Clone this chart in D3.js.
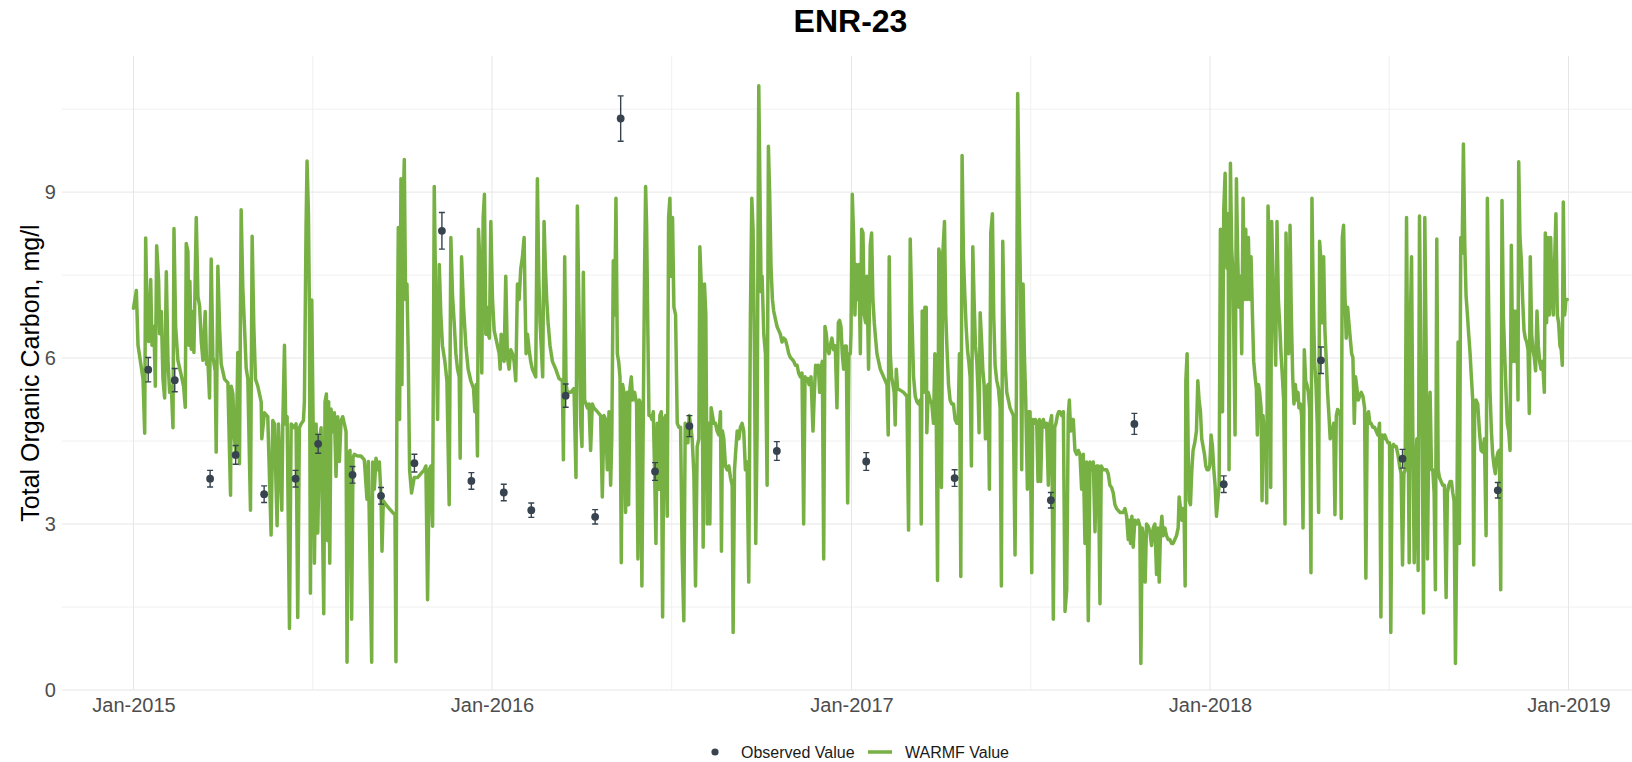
<!DOCTYPE html>
<html lang="en">
<head>
<meta charset="UTF-8">
<title>ENR-23</title>
<script src="https://d3js.org/d3.v7.min.js"></script>
<style>
  body { margin: 0; background: #fff; font-family: "Liberation Sans", Arial, sans-serif; }
  svg { display: block; }
  .grid-major { stroke: #E6E6E6; stroke-width: 1; }
  .grid-minor { stroke: #F0F0F0; stroke-width: 1; }
  .axis path, .axis line { display: none; }
</style>
</head>
<body>
<svg id="chart" width="1632" height="762"></svg>
<script>
// days are counted from this date for the WARMF series
const seriesStart = "2015-01-01";

// observed samples (date, mg/l, error half-width)
const obsDates = ["2015-01-16","2015-02-12","2015-03-20","2015-04-15","2015-05-14","2015-06-15","2015-07-08","2015-08-12",
  "2015-09-10","2015-10-14","2015-11-11","2015-12-11","2016-01-13","2016-02-10","2016-03-16","2016-04-15","2016-05-11",
  "2016-06-15","2016-07-20","2016-10-17","2017-01-16","2017-04-16","2017-07-23","2017-10-16","2018-01-15","2018-04-24",
  "2018-07-16","2018-10-21"];
const obsValues = [5.79,5.60,3.82,4.25,3.54,3.82,4.45,3.89,3.51,4.10,8.30,3.78,3.57,3.25,5.32,3.13,10.33,3.95,4.77,4.32,
  4.13,3.83,3.43,4.81,3.72,5.96,4.18,3.61];
const obsErrors = [0.22,0.21,0.15,0.17,0.15,0.15,0.17,0.15,0.15,0.16,0.33,0.15,0.15,0.13,0.21,0.13,0.41,0.16,0.19,0.17,
  0.16,0.15,0.14,0.19,0.15,0.24,0.17,0.14];

// WARMF simulated series, [day since seriesStart, mg/l]
const warmf2015 = [[0,6.9],[2.9,7.22],[4.6,6.23],[9.7,5.62],[11.4,4.64],[12.4,8.17],[14.1,6.5],[15.4,6.3],[17.5,7.42],[18.8,6.23],
  [20.8,6.57],[22.2,5.49],[23.6,8.03],[25.6,7.39],[26.6,6.44],[28.3,6.84],[30,5.62],[31.7,5.28],[33.4,7.56],[35.1,5.96],[36.8,5.38],
  [38.5,5.49],[40.2,4.74],[41.2,8.34],[42.9,6.57],[45.2,5.96],[48.6,5.69],[51,5.49],[52.7,5.11],[53.7,8.07],[55.4,7.93],[56.4,6.23],
  [57.4,7.39],[58.8,6.16],[60.5,6.84],[61.5,6.1],[63.9,8.54],[65.6,7.11],[67.3,6.94],[69,6.3],[70.7,5.96],[73,6.84],[74.4,5.89],
  [75.7,5.96],[77.4,5.28],[79.1,7.79],[80.8,6.03],[83.2,5.76],[84.2,4.3],[85.9,7.66],[87.6,6.57],[89.3,5.89],[92.7,5.62],[96.1,5.55],
  [98.8,3.52],[99.5,5.49],[101.2,5.35],[102.8,4.54],[104.5,4.26],[106.2,6.1],[107.9,4.09],[109.6,8.68],[111.3,7.25],[113,6.57],
  [114.7,5.82],[116.4,5.62],[119.1,3.25],[120.8,8.2],[122.5,6.57],[124.2,5.62],[126.6,5.49],[130,5.21],[130.6,4.54],[133.3,5.01],
  [136.7,4.94],[140.1,2.8],[141.8,4.87],[143.5,4.81],[146.2,2.97],[147.6,4.81],[151,3.25],[152,4.81],[153.7,6.23],[155,4.81],
  [156.4,4.94],[158.8,1.11],[160.5,4.81],[163.8,4.74],[165.5,4.81],[167.2,1.31],[168.9,4.74],[170.6,4.81],[173,4.87],[174,5.21],
  [175.7,8.4],[176.7,9.56],[178.1,8.61],[179.1,6.91],[180.1,1.75],[181.5,7.05],[182.8,4.94],[184.2,2.29],[185.9,4.81],[187.6,2.84],
  [189.3,4.54],[191,4.74],[192.6,2.77],[193.7,1.38],[195,5.21],[196.4,5.35],[197.7,2.7],[198.7,5.21],[199.8,2.29],[201.1,5.08],
  [202.8,4.67],[204.5,5.01],[206.2,3.86],[207.9,4.94],[209.6,4.13],[211.3,4.87],[213,4.94],[214.7,4.81],[216.4,4.67],[217.4,0.5],
  [218.7,4.26],[220.4,4.33],[222.1,1.28],[223.5,4.2],[224.8,4.26],[228.2,4.23],[231.6,4.23],[235,4.16],[237.7,3.45],[239.1,4.13],
  [242.5,0.5],[243.5,4.12],[245.2,3.63],[246.9,4.19],[248.6,3.98],[250.3,4.12],[252,3.49],[253,2.51],[254.3,3.42],[257,3.35],
  [260.4,3.28],[263.8,3.21],[266.2,3.17],[267.2,0.51],[268.2,5.24],[269.6,8.36],[270.9,4.89],[272.3,9.24],[273.3,5.52],[274.3,8.54],
  [275.7,9.59],[277,7.06],[278.4,7.34],[279.7,6.08],[281.1,3.98],[283.1,3.56],[285.8,3.84],[289.2,3.84],[292.6,3.91],[296,3.98],
  [297.7,4.05],[299.4,1.63],[301.1,3.98],[302.8,4.05],[304.5,2.96],[306.2,9.1],[307.9,6.78],[309.6,4.89],[311.3,7.69],[312.9,6.78],
  [314.6,6.22],[317,5.94],[319.1,5.59],[321.4,3.35],[323.1,8.18],[324.8,7.13],[326.5,6.64],[328.2,6.08],[329.9,5.8],[331.6,5.66],
  [332.6,4.19],[334,7.83],[336,6.92],[338.4,6.22],[340.7,5.8],[343.4,5.59],[346.2,5.45],[347.5,5.03],[348.9,5.52],[350.2,4.23],
  [351.2,8.33],[352.6,7.76],[353.6,6.78],[354.6,5.73],[356,8.54],[357.3,8.96],[358.7,6.43],[359.7,6.92],[361.1,6.43],[362.4,6.36],
  [363.8,8.47]];

const warmf2016 = [[365.5,7.06],[367.2,6.5],[368.9,6.36],[370.6,6.22],[372.3,6.08],[373.3,5.8],[374.3,6.43],[375.6,6.08],[377.3,5.94],
  [379,7.48],[380.7,6.01],[382.4,5.8],[384.1,6.15],[385.8,6.08],[387.5,5.94],[389.2,5.59],[390.9,7.34],[392.6,7.06],[394.3,7.62],
  [396,7.83],[397.7,8.18],[398.7,6.99],[399.7,6.08],[401.1,6.43],[402.8,6.15],[404.4,5.94],[406.1,5.8],[407.8,5.73],[409.5,5.66],
  [411.2,9.24],[412.6,7.48],[413.9,6.64],[415.3,6.15],[416.6,5.66],[418,8.47],[419.4,7.62],[420.7,7.06],[422.1,6.64],[424.1,6.22],
  [426.5,5.94],[429.9,5.8],[433.2,5.63],[436.6,5.59],[437.7,4.16],[439,7.83],[440.4,5.52],[441.7,5.38],[445.1,5.38],[448.5,5.45],
  [450.5,3.84],[451.9,8.75],[453.6,6.78],[455.3,4.82],[456.6,4.4],[458,7.55],[459.3,5.24],[460.7,5.17],[462.1,5.1],[463.7,5.17],
  [465.4,4.33],[467.1,5.17],[468.8,5.1],[472.2,5.03],[475.6,4.96],[477.3,3.49],[479,4.96],[480.7,4.89],[482.4,3.98],[484.1,5.03],
  [485.8,3.7],[487,4.6],[488.5,7.76],[489.9,6.78],[491.2,8.89],[492.6,6.08],[493.9,5.94],[495.3,5.66],[496.6,2.3],[498,5.52],
  [499.3,5.38],[501,3.21],[502.7,5.38],[504.1,3.35],[505.4,5.45],[506.8,5.66],[508.2,5.24],[510.2,5.38],[512.2,5.17],[513.6,2.37],
  [514.9,5.24],[516.3,5.17],[517.6,1.88],[519,4.96],[520.4,7.69],[521.4,9.1],[522.4,8.4],[523.7,6.43],[524.8,4.96],[526.5,4.96],
  [527.8,4.89],[529.2,5.03],[530.5,3.98],[531.9,2.65],[533.2,4.82],[534.9,3.63],[535.9,4.96],[537.3,5.03],[538.7,1.32],[540,4.89],
  [541.7,4.96],[543.4,3.14],[544.8,8.54],[546.1,8.89],[547.5,7.48],[548.8,8.54],[550.2,6.92],[551.9,6.78],[553.6,4.82],[555.3,4.75],
  [557,4.75],[558.6,2.44],[560.3,1.25],[561.7,4.82],[563.1,4.68],[564.4,4.47],[565.8,4.96],[567.1,4.82],[568.8,4.54],[570.5,3.91],
  [572.2,1.88],[573.9,4.4],[575.6,4.54],[576.6,8.01],[578,7.34],[579,5.73],[580,2.58],[581.3,7.34],[582.7,6.78],[584.1,3],[585.4,4.82],
  [586.8,3],[588.1,5.1],[589.5,4.96],[590.8,4.82],[592.5,4.82],[594.2,4.68],[595.9,4.61],[597.6,5.03],[598.6,2.51],[599.6,4.68],
  [601,4.54],[602.7,4.05],[604.4,3.98],[606.1,4.05],[607.8,3.84],[609.5,3.7],[610.5,1.04],[611.9,3.98],[612.9,4.26],[614.6,4.68],
  [616.3,4.54],[617.9,4.75],[619.6,4.82],[621.3,4.68],[623,3.98],[624.7,4.12],[626.4,1.95],[628.1,6.78],[629.5,8.89],[630.8,8.33],
  [632.2,6.08],[633.5,2.65],[634.9,4.68],[636.6,10.92],[637.9,8.89],[639,7.2],[640,7.48],[641.7,6.43],[643.4,6.08],[645.1,3.7],
  [646.4,9.83],[647.8,8.89],[649.1,7.62],[650.5,7.06],[651.8,6.85],[653.5,6.71],[655.2,6.57],[656.9,6.5],[658.6,6.43],[660.3,6.29],
  [662,6.36],[663.7,6.33],[665.4,6.22],[667.1,6.08],[668.8,6.01],[670.5,5.98],[672.2,5.94],[673.9,5.87],[675.6,5.87],[677.2,5.73],
  [678.9,5.66],[680.6,5.73],[682.3,3],[683.7,5.66],[685,5.59],[686.4,5.63],[687.8,5.52],[689.8,5.66],[691.8,4.68],[693.2,5.38],
  [694.5,5.87],[695.9,5.8],[697.2,5.87],[698.6,5.38],[700,5.8],[701.3,5.94],[702.7,2.37],[704,6.57],[705.4,6.43],[706.7,6.15],
  [708.1,6.08],[709.4,6.22],[711.1,6.36],[712.8,6.15],[714.5,6.22],[716.2,5.1],[717.6,6.64],[718.9,6.68],[720.3,6.57],[721.6,6.08],
  [723,5.8],[724.4,6.22],[725.7,6.22],[727.1,3.38],[728.4,6.08],[729.8,6.08]];

const warmf2017 = [[730.5,6.43],[731.8,8.96],[733.2,8.18],[734.5,6.78],[735.9,7.69],[737.2,7.06],[738.6,7.69],[740,6.08],[741.3,8.33],
  [742.7,8.26],[744,6.78],[745.4,6.64],[746.7,7.48],[748.4,5.8],[750.1,8.04],[751.5,8.26],[752.8,7.06],[754.2,6.64],[755.5,6.36],
  [756.9,6.08],[758.6,5.94],[760.3,5.8],[762,5.73],[763.7,5.66],[765.4,5.59],[767.1,5.52],[768.4,4.61],[769.4,7.83],[770.5,6.08],
  [771.8,5.66],[773.2,5.52],[774.5,5.38],[775.5,4.79],[776.6,5.8],[777.9,5.45],[780.6,5.42],[784,5.38],[787.4,5.31],[789.1,2.89],
  [790.8,8.15],[792.5,6.78],[794.2,5.66],[795.9,5.31],[797.6,5.21],[799.3,5.17],[801,5.24],[802,3],[803,6.85],[804.3,5.38],[805.7,6.92],
  [807.1,6.92],[807.7,4.65],[809.1,5.38],[811.1,5.24],[812.8,5.17],[814.5,4.82],[815.9,6.08],[817.2,5.17],[818.6,1.98],[819.9,7.97],
  [821.3,7.83],[822.6,3.66],[824,7.9],[825.7,8.47],[827,6.78],[828.1,6.22],[829.8,5.52],[831.4,5.24],[833.1,5.17],[834.8,5.17],
  [836.5,4.89],[838.2,4.82],[839.6,4.82],[840.9,6.08],[842.3,2.05],[843.6,9.66],[845,7.83],[846.4,7.13],[847.7,6.57],[849.1,6.15],
  [850.4,5.94],[851.8,5.66],[853.1,4.05],[854.5,8.01],[855.8,7.06],[857.2,6.22],[858.6,5.94],[859.9,5.38],[860.9,4.65],[862,6.82],
  [863.3,6.36],[864.7,5.8],[866,5.52],[867.4,4.54],[868.7,5.45],[870.1,5.52],[871.4,3.63],[872.8,8.26],[874.5,8.61],[875.8,6.78],
  [877.2,5.87],[878.9,5.59],[880.6,5.45],[882.3,5.1],[883.6,1.88],[885,8.11],[886.3,6.78],[887.7,5.8],[889.1,5.38],[890.8,5.24],
  [892.4,5.1],[894.1,5.03],[895.8,4.96],[897.5,2.44],[898.9,5.38],[900.2,10.78],[901.6,8.89],[903,7.34],[904.3,3.98],[905.7,7.34],
  [907,6.08],[908.4,5.24],[910.1,3.63],[911.4,5.03],[912.8,5.03],[914.5,2.12],[915.5,4.89],[916.9,4.82],[918.2,4.89],[919.6,4.82],
  [920.9,3.77],[922.3,4.89],[923.6,3.77],[925,4.82],[926.3,4.89],[928,4.75],[929.7,4.82],[931.4,3.7],[933.1,4.82],[934.8,4.96],
  [936.5,1.28],[937.9,4.75],[939.2,4.82],[940.6,4.96],[941.9,5.03],[943.3,5.03],[945,4.96],[946.7,5.03],[948.4,1.42],[950.1,1.81],
  [951.7,4.96],[952.8,5.24],[954.1,4.68],[955.5,4.89],[956.8,4.89],[958.5,4.33],[960.2,4.26],[961.9,4.33],[963.6,4.26],[965.3,3.63],
  [967,4.26],[968.7,2.65],[970.4,4.12],[972.1,1.25],[973.8,4.12],[975.5,3.98],[977.2,4.12],[978.9,2.86],[980.6,4.05],[982.3,4.05],
  [984,1.56],[985.3,4.05],[987.3,3.98],[989,3.98],[990.7,3.98],[992.4,3.91],[994.1,3.7],[995.8,3.66],[997.5,3.56],[999.2,3.35],
  [1000.9,3.28],[1004.3,3.21],[1007.7,3.21],[1009.4,3.28],[1011.1,3.14],[1012.8,2.72],[1013.8,3.07],[1015.1,2.65],[1016.5,3.14],
  [1017.8,2.58],[1019.5,3.07],[1021.2,3],[1022.9,3.07],[1024.6,2.96],[1025.6,0.48],[1027,2.93],[1028.7,2.72],[1030,1.95],[1031.4,3],
  [1033.1,2.96],[1034.8,2.86],[1036.5,2.61],[1038.2,2.93],[1039.9,3],[1041.6,2.09],[1042.9,2.93],[1044.3,1.95],[1045.6,2.86],
  [1047,3.14],[1048.3,2.79],[1050,2.93],[1051.7,2.79],[1053.4,2.72],[1055.1,2.72],[1056.8,2.65],[1058.5,2.65],[1060.2,2.72],
  [1061.9,2.79],[1063.6,2.93],[1064.6,3.49],[1066,3.28],[1067.3,3.07],[1068.7,3.28],[1069.7,3.07],[1070.7,1.88],[1071.4,5.59],
  [1072.7,6.08],[1073.8,4.33],[1074.8,3.42],[1076.1,3.35],[1077.5,3.98],[1078.8,4.33],[1080.5,4.47],[1082.2,4.68],[1083.6,5.59],
  [1084.9,5.24],[1086.3,5.03],[1087.6,4.54],[1089,4.4],[1090.4,4.26],[1091.7,4.05],[1093.1,3.98],[1094.4,3.98],[1095.8,4.05]];

const warmf2018 = [[1097.1,4.61],[1098.5,4.4],[1099.9,3.98],[1101.2,3.7],[1102.6,3.14],[1103.9,3.42],[1105.3,3.7],[1106.6,8.33],
  [1107.6,7.69],[1108.7,5.03],[1110,8.68],[1111.4,9.34],[1112.4,7.83],[1113.4,7.62],[1114.4,8.61],[1115.4,3.98],[1116.8,9.52],
  [1118.1,7.97],[1119.5,7.48],[1120.5,6.08],[1121.5,4.61],[1122.9,9.24],[1124.2,7.83],[1125.6,6.92],[1127,7.48],[1128.3,6.08],
  [1129.7,8.89],[1131,7.06],[1132.4,8.33],[1133.7,7.06],[1135.1,8.18],[1136.4,7.06],[1137.8,7.83],[1139.2,6.78],[1140.5,5.94],
  [1141.9,5.66],[1143.2,5.45],[1144.2,4.61],[1145.3,5.52],[1146.6,5.38],[1148,5.1],[1149,3.42],[1150,4.96],[1151.4,4.54],[1152.7,4.54],
  [1153.7,3.38],[1155.1,8.75],[1156.4,7.83],[1157.8,3.66],[1158.8,8.47],[1160.2,7.34],[1161.5,6.78],[1162.9,5.87],[1164.2,8.47],
  [1165.6,7.06],[1166.9,6.64],[1168.3,6.08],[1169.7,5.66],[1171,5.24],[1172.4,3],[1173.4,8.26],[1174.7,6.78],[1176.1,6.08],
  [1177.5,8.4],[1178.8,6.78],[1180.2,5.66],[1181.5,5.17],[1182.9,5.52],[1184.2,5.24],[1185.6,5.38],[1186.6,5.1],[1188,5.17],
  [1189.3,4.96],[1190.7,2.93],[1192,6.15],[1193.4,5.59],[1194.7,5.52],[1196.1,5.38],[1197.4,5.1],[1198.8,2.12],[1199.8,8.89],
  [1201.2,7.06],[1202.5,5.94],[1203.9,5.52],[1205.2,4.82],[1206.6,3.21],[1207.6,8.11],[1209,7.76],[1210.3,6.64],[1211.7,7.83],
  [1213,6.5],[1214.4,5.94],[1215.7,5.38],[1217.1,4.96],[1218.4,4.54],[1220.5,4.68],[1221.9,4.82],[1223.2,3.17],[1224.6,4.96],
  [1225.9,5.07],[1227.3,5.03],[1228.6,4.96],[1229.6,3.1],[1230.7,8.18],[1232,8.4],[1233.4,7.13],[1234.7,6.36],[1236.1,6.92],
  [1237.4,6.64],[1238.8,6.36],[1240.2,6.08],[1241.5,6.01],[1242.9,4.82],[1244.2,5.66],[1245.6,5.45],[1246.9,5.24],[1248.3,5.31],
  [1250,5.38],[1251.7,5.31],[1253.4,5.1],[1254.7,2.02],[1256.1,4.96],[1257.4,5.03],[1258.8,4.82],[1260.1,4.82],[1261.8,4.75],
  [1263.5,4.75],[1265.2,4.68],[1266.9,4.61],[1268.6,4.82],[1270,1.32],[1271.3,4.61],[1272.7,4.54],[1274,4.61],[1275.4,4.54],
  [1277.1,4.47],[1278.8,4.47],[1280.1,1.04],[1281.5,4.4],[1282.9,4.44],[1284.2,4.4],[1285.6,4.4],[1287.3,4.26],[1289,4.05],
  [1290.6,3.91],[1292,2.26],[1293.4,3.91],[1294.7,3.98],[1296.1,8.54],[1297.4,5.38],[1298.8,2.3],[1300.1,6.78],[1301.2,7.83],
  [1302.5,4.68],[1303.9,2.3],[1305.2,3.98],[1306.6,4.54],[1307.9,2.16],[1309.3,8.57],[1310.6,6.08],[1312,4.68],[1313.4,1.39],
  [1314.7,8.54],[1316.1,6.08],[1317.4,2.37],[1318.8,4.68],[1320.1,5.38],[1321.5,3.98],[1322.8,3.98],[1324.2,3.56],[1325.5,1.81],
  [1326.9,8.15],[1328.3,3.98],[1329.6,3.84],[1331.3,3.77],[1333,3.7],[1334.7,3.7],[1336.4,1.67],[1337.7,3.56],[1339.1,3.7],
  [1340.5,3.77],[1341.8,3.77],[1343.2,3.56],[1344.5,3.42],[1345.9,0.48],[1347.2,2.72],[1348.6,6.29],[1349.9,2.65],[1351.3,8.18],
  [1352.7,7.9],[1354,9.87],[1355.4,8.04],[1356.7,7.13],[1358.1,6.78],[1359.4,6.43],[1360.8,6.08],[1362.1,5.66],[1363.5,5.24],
  [1364.5,2.26],[1365.5,5.17],[1366.9,5.24],[1368.6,5.17],[1370.3,4.68],[1372,4.33],[1373.7,4.3],[1375.4,4.54],[1377.1,2.79],
  [1378.4,8.89],[1379.8,6.78],[1381.1,5.38],[1382.5,4.68],[1383.8,4.26],[1385.2,4.05],[1386.5,3.91],[1387.9,4.19],[1389.3,4.3],
  [1390.6,4.33],[1392,1.81],[1393.3,8.85],[1394.7,6.78],[1396,6.08],[1397.4,5.38],[1398.7,4.82],[1400.1,4.68],[1401.5,4.33],
  [1402.8,8.04],[1404.2,5.94],[1405.5,6.85],[1406.9,5.94],[1408.2,6.85],[1409.6,5.24],[1410.3,9.55],[1411.6,8.18],[1413,7.76],
  [1414.3,7.06],[1415.7,6.5],[1417,6.36],[1418.4,6.29],[1419.8,6.15],[1421.1,5],[1422.1,7.83],[1423.5,6.43],[1424.8,6.15],
  [1426.2,6.01],[1427.5,5.77],[1428.9,6.85],[1430.3,6.22],[1431.6,5.94],[1433,5.8],[1434.7,5.94],[1436.4,5.38],[1437.4,8.26],
  [1438.7,6.64],[1440.1,8.18],[1441.4,6.78],[1442.8,8.18],[1444.2,7.13],[1445.5,6.78],[1446.9,7.76],[1448.2,8.61],[1449.6,6.78],
  [1450.9,6.64],[1452.3,6.22],[1453.6,6.15],[1454.7,5.87],[1455.7,8.82],[1457.1,6.78],[1458.4,7.06],[1459.7,7.06]];

const yTicks = [0, 3, 6, 9];
const yMinor = [1.5, 4.5, 7.5, 10.5];
const chartTitle = "ENR-23";
const yTitle = "Total Organic Carbon, mg/l";
const legendLabels = ["Observed Value", "WARMF Value"];

const lineColor = "#77B144";
const pointColor = "#37444F";

const svg = d3.select("#chart");
const parse = d3.utcParse("%Y-%m-%d");
const t0 = parse(seriesStart);
const dayMs = 86400000;

const x = d3.scaleUtc()
  .domain([parse("2015-01-01"), parse("2019-01-01")])
  .range([133.5, 1568.5]);
const y = d3.scaleLinear().domain([0, 11.46]).range([690, 56]);

// ggplot-style 5% expansion on the date axis
const span = x(parse("2018-12-31")) - x(parse("2015-01-01"));
const panelLeft = x(parse("2015-01-01")) - 0.05 * span;
const panelRight = x(parse("2018-12-31")) + 0.05 * span;
const panelTop = y.range()[1], panelBottom = y.range()[0];

const warmf = [].concat(warmf2015, warmf2016, warmf2017, warmf2018)
  .map(([d, v]) => ({ date: new Date(t0.getTime() + d * dayMs), value: v }));
const observed = obsDates.map((d, i) => ({ date: parse(d), value: obsValues[i], err: obsErrors[i] }));

// grid
const yearTicks = x.ticks(d3.utcYear.every(1));
const midYears = d3.pairs(yearTicks).map(([a, b]) => new Date((a.getTime() + b.getTime()) / 2));

const grid = svg.append("g");
grid.selectAll(".hminor").data(yMinor).join("line")
  .attr("class", "grid-minor")
  .attr("x1", panelLeft).attr("x2", panelRight)
  .attr("y1", d => y(d)).attr("y2", d => y(d));
grid.selectAll(".vminor").data(midYears).join("line")
  .attr("class", "grid-minor")
  .attr("x1", d => x(d)).attr("x2", d => x(d))
  .attr("y1", panelTop).attr("y2", panelBottom);
grid.selectAll(".hmajor").data(yTicks).join("line")
  .attr("class", "grid-major")
  .attr("x1", panelLeft).attr("x2", panelRight)
  .attr("y1", d => y(d)).attr("y2", d => y(d));
grid.selectAll(".vmajor").data(yearTicks).join("line")
  .attr("class", "grid-major")
  .attr("x1", d => x(d)).attr("x2", d => x(d))
  .attr("y1", panelTop).attr("y2", panelBottom);

// axes
const xAxis = svg.append("g").attr("class", "axis")
  .attr("transform", `translate(0,${panelBottom})`)
  .call(d3.axisBottom(x).tickValues(yearTicks).tickFormat(d3.utcFormat("%b-%Y")).tickSize(0).tickPadding(8));
const yAxis = svg.append("g").attr("class", "axis")
  .attr("transform", `translate(${panelLeft},0)`)
  .call(d3.axisLeft(y).tickValues(yTicks).tickFormat(d3.format("d")).tickSize(0).tickPadding(6));
svg.selectAll(".axis .domain").remove();
svg.selectAll(".axis text")
  .style("font-family", "'Liberation Sans', Arial, sans-serif")
  .style("font-size", "20px")
  .style("fill", "#4D4D4D");

// WARMF line
const line = d3.line().x(d => x(d.date)).y(d => y(d.value));
svg.append("path")
  .datum(warmf)
  .attr("d", line)
  .attr("fill", "none")
  .attr("stroke", lineColor)
  .attr("stroke-width", 3.5)
  .attr("stroke-linejoin", "round")
  .attr("stroke-linecap", "round");

// observed with error bars
const obs = svg.append("g");
const capW = 3;
obs.selectAll(".eb").data(observed).join("path")
  .attr("fill", "none")
  .attr("stroke", pointColor)
  .attr("stroke-width", 1.4)
  .attr("d", d => {
    const cx = x(d.date), y1 = y(d.value + d.err), y2 = y(d.value - d.err);
    return `M${cx - capW},${y1}H${cx + capW}M${cx},${y1}V${y2}M${cx - capW},${y2}H${cx + capW}`;
  });
obs.selectAll("circle").data(observed).join("circle")
  .attr("cx", d => x(d.date))
  .attr("cy", d => y(d.value))
  .attr("r", 3.9)
  .attr("fill", pointColor);

// title
svg.append("text")
  .attr("x", (panelLeft + panelRight) / 2)
  .attr("y", 32)
  .attr("text-anchor", "middle")
  .style("font-size", "32px")
  .style("font-weight", "bold")
  .style("fill", "#000")
  .text(chartTitle);

// y title
svg.append("text")
  .attr("transform", `translate(30,${(panelTop + panelBottom) / 2}) rotate(-90)`)
  .attr("text-anchor", "middle")
  .attr("dominant-baseline", "central")
  .style("font-size", "25px")
  .style("fill", "#000")
  .text(yTitle);

// legend
const legend = svg.append("g").attr("transform", "translate(0,752)");
legend.append("circle").attr("cx", 715).attr("cy", 0).attr("r", 3.6).attr("fill", pointColor);
legend.append("text").attr("x", 741).attr("y", 0).attr("dominant-baseline", "central")
  .style("font-size", "16px").style("fill", "#1A1A1A").text(legendLabels[0]);
legend.append("line").attr("x1", 868).attr("x2", 892).attr("y1", 0).attr("y2", 0)
  .attr("stroke", lineColor).attr("stroke-width", 3.5);
legend.append("text").attr("x", 905).attr("y", 0).attr("dominant-baseline", "central")
  .style("font-size", "16px").style("fill", "#1A1A1A").text(legendLabels[1]);
</script>
</body>
</html>
